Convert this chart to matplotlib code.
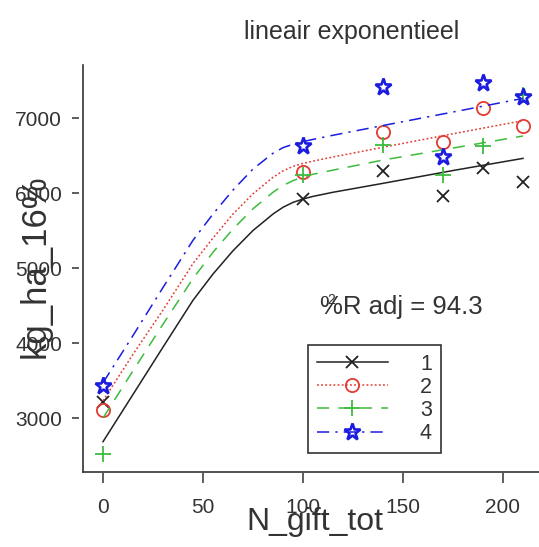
import matplotlib
matplotlib.use("Agg")
import matplotlib.pyplot as plt
from matplotlib.lines import Line2D
from matplotlib.legend_handler import HandlerTuple

plt.rcParams["font.family"] = ["Liberation Sans", "DejaVu Sans"]

# observed yields per group
n_gift = [0, 100, 140, 170, 190, 210]
obs_1 = [3218, 5916, 6293, 5960, 6329, 6151]
obs_2 = [3111, 6284, 6818, 6684, 7129, 6898]
obs_3 = [2520, 6240, 6640, 6240, 6627, 7307]
obs_4 = [3427, 6627, 7417, 6476, 7471, 7284]

# fitted curves
fit_x = [0, 15, 30, 45, 55, 65, 75, 85, 90, 95, 100, 105, 115, 140, 175, 210]
fit_1 = [2684, 3314, 3945, 4570, 4920, 5230, 5500, 5720, 5810, 5875, 5920, 5955, 6010, 6129, 6300, 6462]
fit_2 = [3230, 3850, 4440, 5060, 5400, 5720, 5990, 6210, 6295, 6355, 6395, 6425, 6480, 6610, 6790, 6965]
fit_3 = [3000, 3630, 4250, 4860, 5210, 5520, 5790, 6010, 6100, 6165, 6215, 6250, 6305, 6440, 6600, 6760]
fit_4 = [3470, 4100, 4740, 5370, 5720, 6040, 6320, 6530, 6605, 6650, 6685, 6715, 6770, 6900, 7080, 7262]

labels = ["1", "2", "3", "4"]
x_ticks = [0, 50, 100, 150, 200]
y_ticks = [3000, 4000, 5000, 6000, 7000]

fig = plt.figure(figsize=(5.39, 5.47), dpi=100)
ax = fig.add_axes([83 / 539, 75 / 547, 456 / 539, 407 / 547])

styles = [
    dict(color="#222222", ls="-", marker="x", ms=9, mew=1.3),
    dict(color="#e33a32", ls=(0, (1.2, 1.5)), marker="o", ms=9.5, mew=1.3),
    dict(color="#3cbc3c", ls=(0, (8, 6)), marker="+", ms=12, mew=1.3),
    dict(color="#1c1ce0", ls=(0, (8, 4, 1.5, 4)), marker="*", ms=12.5, mew=1.9),
]

handles = []
for obs, fit, st in zip([obs_1, obs_2, obs_3, obs_4], [fit_1, fit_2, fit_3, fit_4], styles):
    line, = ax.plot(fit_x, fit, color=st["color"], ls=st["ls"], lw=1.1)
    pts, = ax.plot(n_gift, obs, ls="none", color=st["color"], marker=st["marker"],
                   ms=st["ms"], mew=st["mew"], mfc="none")
    handles.append((line, pts))

ax.set_xlim(-10, 218)
ax.set_ylim(2280, 7707)
ax.set_xticks(x_ticks)
ax.set_yticks(y_ticks)

# axes lines, ticks sit slightly detached from them
for side in ["top", "right"]:
    ax.spines[side].set_visible(False)
ax.spines["left"].set_position(("outward", 3))
ax.spines["bottom"].set_position(("outward", 1))
ax.spines["left"].set_visible(False)
ax.spines["bottom"].set_visible(False)
ax.add_line(Line2D([0, 0], [0, 1], transform=ax.transAxes, color="#333333", lw=1.2, clip_on=False))
ax.add_line(Line2D([0, 1], [0, 0], transform=ax.transAxes, color="#333333", lw=1.2, clip_on=False))

ax.tick_params(axis="x", length=7, width=1.1, color="#333333", pad=11, labelsize=15, labelcolor="#333333")
ax.tick_params(axis="y", length=5, width=1.1, color="#333333", pad=7, labelsize=15, labelcolor="#333333")

fig.text(352 / 539, 1 - 32 / 547, "lineair exponentieel", ha="center", va="center",
         fontsize=18, color="#333333")
fig.text(315 / 539, 1 - 522 / 547, "N_gift_tot", ha="center", va="center",
         fontsize=23, color="#333333")
fig.text(35 / 539, 1 - 266 / 547, "kg_ha_16%", ha="center", va="center", rotation=90,
         fontsize=25, color="#333333")

fig.text(320 / 539, 1 - 307 / 547, "%R adj = 94.3", ha="left", va="center",
         fontsize=18.5, color="#333333")
fig.text(327 / 539, 1 - 300 / 547, "2", ha="left", va="center", fontsize=10, color="#333333")

leg = ax.legend(handles, labels, handler_map={tuple: HandlerTuple(ndivide=1)},
                loc="upper left", bbox_to_anchor=(308 / 539, 1 - 345 / 547),
                bbox_transform=fig.transFigure, borderaxespad=0, fontsize=15.5,
                handlelength=3.3, labelspacing=0.1, handletextpad=1.5,
                borderpad=0.4, fancybox=False, framealpha=1, numpoints=1)
leg.get_frame().set_edgecolor("#333333")
leg.get_frame().set_linewidth(1.2)
for t in leg.get_texts():
    t.set_color("#333333")

fig.savefig("out.png", dpi=100)
